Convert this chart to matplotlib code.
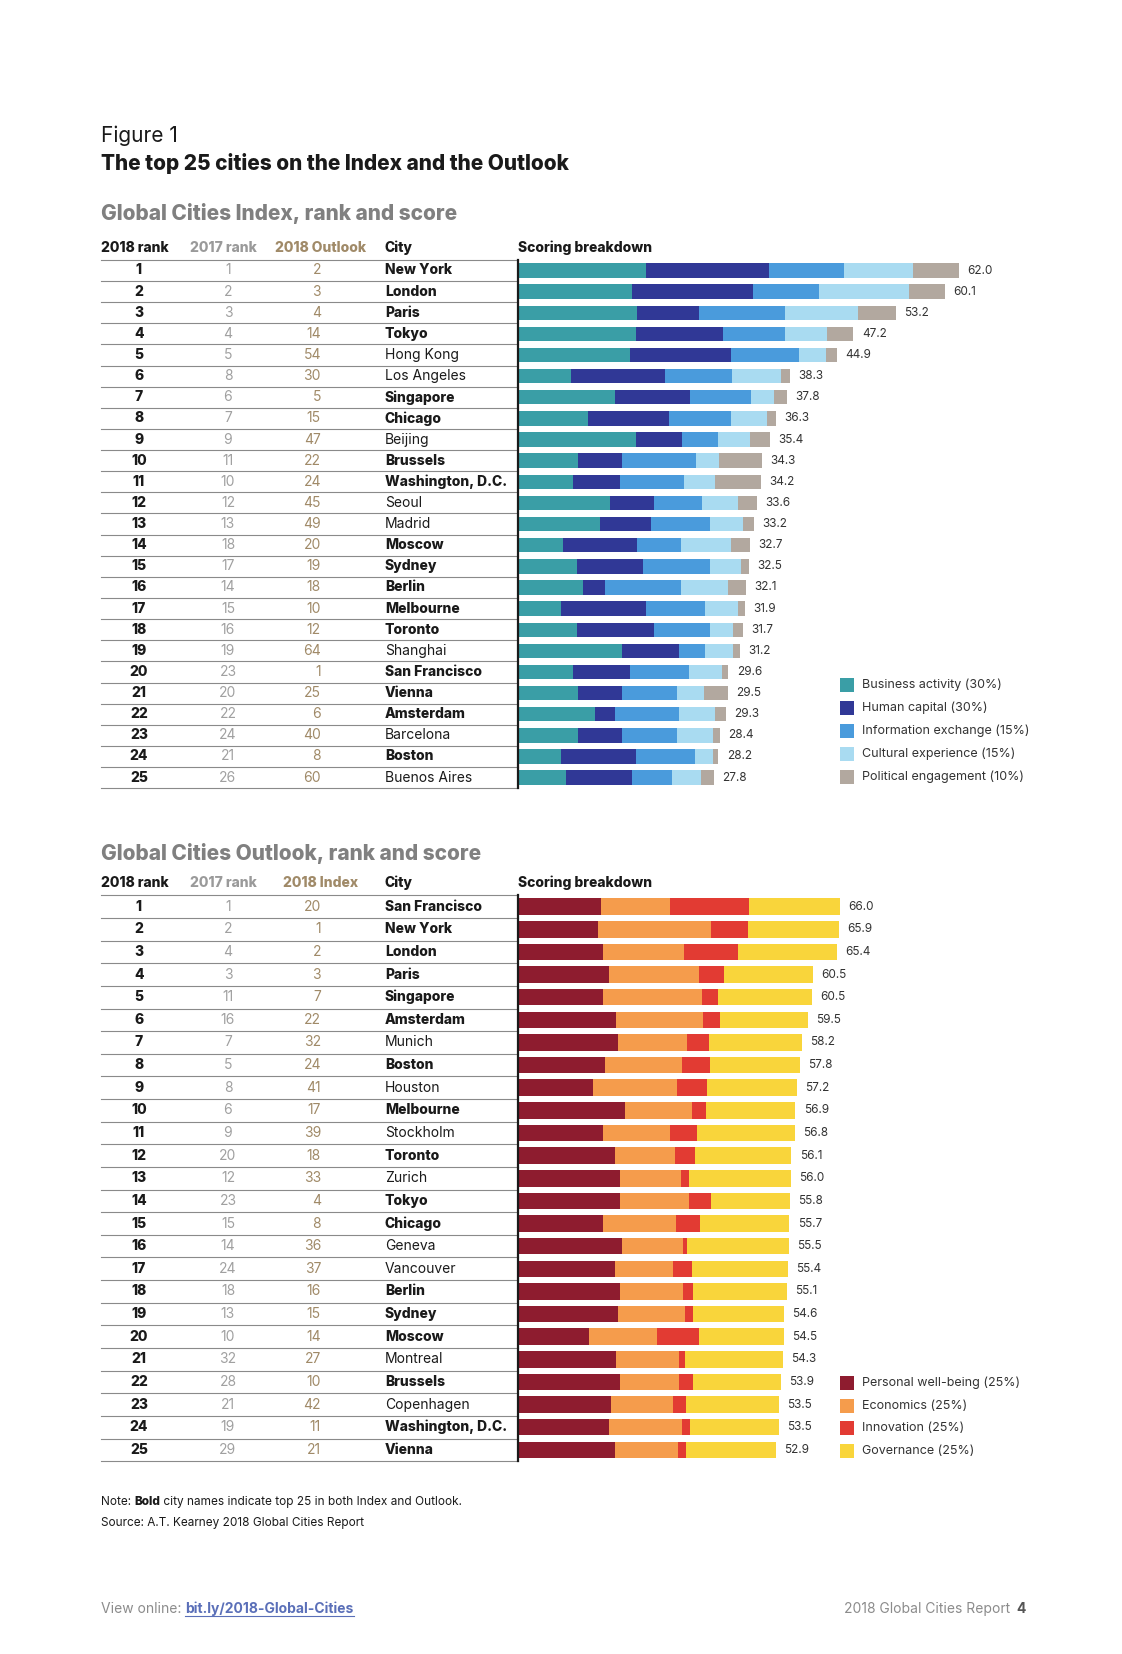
import numpy as np
import matplotlib.pyplot as plt
from matplotlib.patches import Rectangle

plt.rcParams['font.family'] = ['Inter', 'DejaVu Sans']

# ---------------- data: Global Cities Index ----------------
idx_cities = ["New York", "London", "Paris", "Tokyo", "Hong Kong", "Los Angeles", "Singapore",
              "Chicago", "Beijing", "Brussels", "Washington, D.C.", "Seoul", "Madrid", "Moscow",
              "Sydney", "Berlin", "Melbourne", "Toronto", "Shanghai", "San Francisco", "Vienna",
              "Amsterdam", "Barcelona", "Boston", "Buenos Aires"]
idx_rank17 = [1, 2, 3, 4, 5, 8, 6, 7, 9, 11, 10, 12, 13, 18, 17, 14, 15, 16, 19, 23, 20, 22, 24, 21, 26]
idx_outlook = [2, 3, 4, 14, 54, 30, 5, 15, 47, 22, 24, 45, 49, 20, 19, 18, 10, 12, 64, 1, 25, 6, 40, 8, 60]
idx_total = [62.0, 60.1, 53.2, 47.2, 44.9, 38.3, 37.8, 36.3, 35.4, 34.3, 34.2, 33.6, 33.2, 32.7,
             32.5, 32.1, 31.9, 31.7, 31.2, 29.6, 29.5, 29.3, 28.4, 28.2, 27.8]
business = [18.0, 16.1, 16.8, 16.6, 15.8, 7.5, 13.6, 9.9, 16.6, 8.5, 7.8, 12.9, 11.5, 6.4,
            8.3, 9.2, 6.0, 8.3, 14.7, 7.8, 8.5, 10.8, 8.5, 6.0, 6.7]
human = [17.3, 17.0, 8.7, 12.2, 14.1, 13.2, 10.6, 11.3, 6.5, 6.2, 6.5, 6.2, 7.2, 10.4,
         9.3, 3.0, 12.0, 10.8, 7.9, 8.0, 6.2, 2.8, 6.2, 10.6, 9.4]
information = [10.6, 9.3, 12.0, 8.7, 9.7, 9.4, 8.6, 8.7, 5.1, 10.4, 9.0, 6.8, 8.3, 6.2,
               9.4, 10.8, 8.3, 7.9, 3.7, 8.3, 7.6, 9.0, 7.6, 8.3, 5.5]
cultural = [9.7, 12.6, 10.4, 6.0, 3.7, 6.9, 3.2, 5.1, 4.4, 3.2, 4.4, 5.1, 4.6, 6.9,
            4.4, 6.5, 4.6, 3.2, 3.9, 4.6, 3.9, 5.1, 5.1, 2.5, 4.2]
political = [6.4, 5.1, 5.3, 3.7, 1.6, 1.3, 1.8, 1.3, 2.8, 6.0, 6.5, 2.6, 1.6, 2.8,
             1.1, 2.6, 1.0, 1.5, 1.0, 0.9, 3.3, 1.6, 1.0, 0.8, 1.8]
idx_labels = ["Business activity (30%)", "Human capital (30%)", "Information exchange (15%)",
              "Cultural experience (15%)", "Political engagement (10%)"]
idx_colors = ["#3a9ea6", "#303896", "#4a9bdc", "#a9dbf1", "#b2a89f"]

# ---------------- data: Global Cities Outlook ----------------
out_cities = ["San Francisco", "New York", "London", "Paris", "Singapore", "Amsterdam", "Munich",
              "Boston", "Houston", "Melbourne", "Stockholm", "Toronto", "Zurich", "Tokyo",
              "Chicago", "Geneva", "Vancouver", "Berlin", "Sydney", "Moscow", "Montreal",
              "Brussels", "Copenhagen", "Washington, D.C.", "Vienna"]
out_rank17 = [1, 2, 4, 3, 11, 16, 7, 5, 8, 6, 9, 20, 12, 23, 15, 14, 24, 18, 13, 10, 32, 28, 21, 19, 29]
out_index = [20, 1, 2, 3, 7, 22, 32, 24, 41, 17, 39, 18, 33, 4, 8, 36, 37, 16, 15, 14, 27, 10, 42, 11, 21]
out_total = [66.0, 65.9, 65.4, 60.5, 60.5, 59.5, 58.2, 57.8, 57.2, 56.9, 56.8, 56.1, 56.0, 55.8,
             55.7, 55.5, 55.4, 55.1, 54.6, 54.5, 54.3, 53.9, 53.5, 53.5, 52.9]
wellbeing = [17.0, 16.5, 17.4, 18.6, 17.4, 20.2, 20.6, 17.8, 15.3, 21.9, 17.4, 19.8, 21.0, 21.0,
             17.4, 21.4, 19.8, 21.0, 20.6, 14.5, 20.2, 21.0, 19.0, 18.6, 19.8]
economics = [14.1, 23.1, 16.6, 18.6, 20.3, 17.8, 14.1, 15.8, 17.4, 13.7, 13.7, 12.5, 12.5, 14.1,
             15.0, 12.5, 12.1, 12.9, 13.7, 14.1, 12.9, 12.1, 12.9, 15.0, 13.0]
innovation = [16.2, 7.6, 11.2, 5.1, 3.3, 3.5, 4.5, 5.7, 6.1, 2.9, 5.7, 4.1, 1.6, 4.5,
              4.9, 0.8, 3.7, 2.0, 1.6, 8.6, 1.2, 2.9, 2.5, 1.7, 1.7]
governance = [18.7, 18.7, 20.2, 18.2, 19.3, 17.9, 19.0, 18.5, 18.4, 18.4, 20.0, 19.7, 20.9, 16.2,
              18.4, 20.8, 19.8, 19.2, 18.7, 17.3, 20.0, 17.9, 19.1, 18.2, 18.4]
out_labels = ["Personal well-being (25%)", "Economics (25%)", "Innovation (25%)", "Governance (25%)"]
out_colors = ["#8e1c2f", "#f59c4c", "#e23b33", "#f9d53b"]

both = set(idx_cities) & set(out_cities)

W, H = 1122, 1654
fig = plt.figure(figsize=(W / 100, H / 100), dpi=100)
page = fig.add_axes([0, 0, 1, 1])
page.set_xlim(0, W)
page.set_ylim(H, 0)
page.axis('off')

DARK = "#1a1a1a"
GREY = "#8c8c8c"
GOLD = "#a08a68"

page.text(101, 136, "Figure 1", fontsize=15, color=DARK, va='center')
page.text(101, 164, "The top 25 cities on the Index and the Outlook", fontsize=15,
          fontweight='heavy', color=DARK, va='center')


def section(title, col3, y_title, y_head, y0, dy, cities, rank17, other, totals, segs,
            colors, labels, px_per_unit, leg_y0, leg_dy, bar_h):
    page.text(101, y_title, title, fontsize=15, fontweight='heavy', color="#808080", va='center')
    page.text(101, y_head, "2018 rank", fontsize=10, fontweight='heavy', color=DARK, va='center')
    page.text(223, y_head, "2017 rank", fontsize=10, fontweight='heavy', color="#9a9a9a",
              va='center', ha='center')
    page.text(321, y_head, col3, fontsize=10, fontweight='heavy', color=GOLD, va='center', ha='center')
    page.text(385, y_head, "City", fontsize=10, fontweight='heavy', color=DARK, va='center')
    page.text(518, y_head, "Scoring breakdown", fontsize=10, fontweight='heavy', color=DARK, va='center')

    n = len(cities)
    top = y0 - dy / 2
    for k in range(n + 1):
        page.plot([101, 518], [top + k * dy] * 2, color="#8a8a8a", lw=0.8)
    for i in range(n):
        y = y0 + i * dy
        page.text(139, y, str(i + 1), fontsize=10, fontweight='heavy', color=DARK, va='center', ha='center')
        page.text(228, y, str(rank17[i]), fontsize=10, color="#a0a0a0", va='center', ha='center')
        page.text(321, y, str(other[i]), fontsize=10, color=GOLD, va='center', ha='right')
        page.text(385, y, cities[i], fontsize=10, color=DARK, va='center',
                  fontweight='heavy' if cities[i] in both else 'normal')

    bottom = top + n * dy
    right = 1000
    ax = fig.add_axes([518 / W, 1 - bottom / H, (right - 518) / W, (bottom - top) / H])
    ax.set_xlim(0, (right - 518) / px_per_unit)
    ax.set_ylim(n - 0.5, -0.5)
    ypos = np.arange(n)
    left = np.zeros(n)
    for s, c in zip(segs, colors):
        s = np.array(s)
        ax.barh(ypos, s, left=left, height=bar_h, color=c, linewidth=0)
        left = left + s
    for i in range(n):
        ax.annotate(f"{totals[i]:.1f}", (left[i], i), xytext=(6, 0), textcoords='offset points',
                    fontsize=8.5, color="#333333", va='center', ha='left')
    for sp in ['top', 'right', 'bottom']:
        ax.spines[sp].set_visible(False)
    ax.spines['left'].set_linewidth(1.6)
    ax.spines['left'].set_color(DARK)
    ax.set_xticks([])
    ax.set_yticks([])
    ax.patch.set_alpha(0)

    for j, (lab, c) in enumerate(zip(labels, colors)):
        y = leg_y0 + j * leg_dy
        page.add_patch(Rectangle((840, y - 7), 14, 14, color=c, lw=0))
        page.text(862, y, lab, fontsize=9, color="#333333", va='center')


section("Global Cities Index, rank and score", "2018 Outlook", 214, 248, 270.5, 21.13,
        idx_cities, idx_rank17, idx_outlook, idx_total,
        [business, human, information, cultural, political], idx_colors, idx_labels,
        7.108, 685, 23, 0.68)
section("Global Cities Outlook, rank and score", "2018 Index", 853, 883, 906.7, 22.63,
        out_cities, out_rank17, out_index, out_total,
        [wellbeing, economics, innovation, governance], out_colors, out_labels,
        4.874, 1383, 22.7, 0.73)

# note and source
fig.canvas.draw()
r = fig.canvas.get_renderer()


def run(x, y, parts, size):
    for txt, kw in parts:
        t = page.text(x, y, txt, fontsize=size, va='center', **kw)
        bb = t.get_window_extent(renderer=r)
        x += bb.width
    return x


run(101, 1502, [("Note: ", dict(color=DARK)), ("Bold", dict(color=DARK, fontweight='heavy')),
                (" city names indicate top 25 in both Index and Outlook.", dict(color=DARK))], 8.5)
page.text(101, 1523, "Source: A.T. Kearney 2018 Global Cities Report", fontsize=8.5, color=DARK, va='center')

# footer
x0 = run(101, 1609, [("View online: ", dict(color=GREY))], 10)
t = page.text(x0, 1609, "bit.ly/2018-Global-Cities", fontsize=10, fontweight='bold',
              color="#5a6fb8", va='center')
bb = t.get_window_extent(renderer=r)
page.plot([x0, x0 + bb.width], [1616, 1616], color="#5a6fb8", lw=0.8)
page.text(1026, 1609, "4", fontsize=10, fontweight='bold', color="#555555", va='center', ha='right')
page.text(1010, 1609, "2018 Global Cities Report", fontsize=10, color=GREY, va='center', ha='right')

fig.savefig("out.png", dpi=100)
